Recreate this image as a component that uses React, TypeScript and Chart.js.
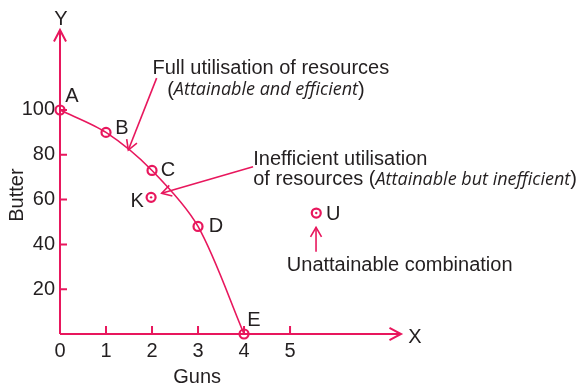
import { useEffect, useRef } from 'react';
import { Chart, registerables } from 'chart.js';

Chart.register(...registerables);

// ---- data ----
const pointNames = ['A', 'B', 'C', 'D', 'E'];
const guns = [0, 1, 2, 3, 4];
const butter = [100, 90, 73, 48, 0];
const inefficientName = 'K';
const inefficientGuns = 1.98;
const inefficientButter = 61;
const unattainableName = 'U';
const unattainableGuns = 5.57;
const unattainableButter = 54;
const xTicks = [0, 1, 2, 3, 4, 5];
const yTicks = [20, 40, 60, 80, 100];
const xAxisTitle = 'Guns';
const yAxisTitle = 'Butter';
const xAxisLetter = 'X';
const yAxisLetter = 'Y';
const xMax = 7.39;
const yMax = 135.7;

// annotation texts, anchored in data units
const noteAnchorsX = [2.01, 2.33, 4.2, 4.2, 4.93];
const noteAnchorsY = [118.7, 108.9, 78.1, 68.75, 30.8];
const noteParts: [string, boolean][][] = [
  [['Full utilisation of resources', false]],
  [['(', false], ['Attainable and efficient', true], [')', false]],
  [['Inefficient utilisation', false]],
  [['of resources (', false], ['Attainable but inefficient', true], [')', false]],
  [['Unattainable combination', false]],
];
const arrowFromX = [2.1, 4.196, 5.565];
const arrowFromY = [114.2, 74.7, 36.7];
const arrowToX = [1.485, 2.21, 5.565];
const arrowToY = [82.1, 62.8, 47.6];

// ---- styles ----
const PINK = '#e8175d';
const INK = '#231f20';
const FONT = '"Liberation Sans", Arial, sans-serif';
const ITALIC_FONT = '"Open Sans", "Noto Sans", sans-serif';
const FS = 20;
const labelOffsets: Record<string, [number, number]> = {
  A: [12, -13], B: [16, -4], C: [16, 0], D: [18, 0], E: [10, -14], K: [-14, 4], U: [17, 1],
};

function drawArrow(ctx: CanvasRenderingContext2D, x1: number, y1: number, x2: number, y2: number, len: number, ang: number, width: number) {
  ctx.save();
  ctx.strokeStyle = PINK;
  ctx.lineWidth = width;
  ctx.lineCap = 'butt';
  ctx.lineJoin = 'miter';
  ctx.beginPath();
  ctx.moveTo(x1, y1);
  ctx.lineTo(x2, y2);
  ctx.stroke();
  const a = Math.atan2(y2 - y1, x2 - x1);
  ctx.beginPath();
  ctx.moveTo(x2 - len * Math.cos(a - ang), y2 - len * Math.sin(a - ang));
  ctx.lineTo(x2, y2);
  ctx.lineTo(x2 - len * Math.cos(a + ang), y2 - len * Math.sin(a + ang));
  ctx.stroke();
  ctx.restore();
}

const decorPlugin = {
  id: 'decor',
  beforeDraw(chart: any) {
    const ctx = chart.ctx as CanvasRenderingContext2D;
    ctx.save();
    ctx.fillStyle = '#ffffff';
    ctx.fillRect(0, 0, chart.width, chart.height);
    ctx.restore();
  },
  beforeDatasetsDraw(chart: any) {
    const ctx = chart.ctx as CanvasRenderingContext2D;
    const xs = chart.scales.x;
    const ys = chart.scales.y;
    const x0 = xs.getPixelForValue(0);
    const y0 = ys.getPixelForValue(0);
    // tick marks (inside)
    ctx.save();
    ctx.strokeStyle = PINK;
    ctx.lineWidth = 2;
    ctx.beginPath();
    xTicks.forEach((v) => {
      if (v === 0) return;
      const px = xs.getPixelForValue(v);
      ctx.moveTo(px, y0);
      ctx.lineTo(px, y0 - 8);
    });
    yTicks.forEach((v) => {
      const py = ys.getPixelForValue(v);
      ctx.moveTo(x0, py);
      ctx.lineTo(x0 + 7, py);
    });
    ctx.stroke();
    ctx.restore();
    // axes with arrows
    drawArrow(ctx, x0, y0, xs.right + 1, y0, 13, Math.PI / 6.5, 2);
    drawArrow(ctx, x0, y0, x0, ys.top, 13, Math.PI / 6.5, 2);
  },
  afterDatasetsDraw(chart: any) {
    const ctx = chart.ctx as CanvasRenderingContext2D;
    const xs = chart.scales.x;
    const ys = chart.scales.y;
    // centre dots for K and U
    [1, 2].forEach((i) => {
      const el = chart.getDatasetMeta(i).data[0];
      ctx.save();
      ctx.fillStyle = PINK;
      ctx.beginPath();
      ctx.arc(el.x, el.y, 1.2, 0, Math.PI * 2);
      ctx.fill();
      ctx.restore();
    });
    // point labels
    ctx.save();
    ctx.fillStyle = INK;
    ctx.font = `${FS}px ${FONT}`;
    ctx.textAlign = 'center';
    ctx.textBaseline = 'middle';
    const meta0 = chart.getDatasetMeta(0);
    pointNames.forEach((n, i) => {
      const el = meta0.data[i];
      const o = labelOffsets[n];
      ctx.fillText(n, el.x + o[0], el.y + o[1]);
    });
    [[1, inefficientName], [2, unattainableName]].forEach(([i, n]) => {
      const el = chart.getDatasetMeta(i as number).data[0];
      const o = labelOffsets[n as string];
      ctx.fillText(n as string, el.x + o[0], el.y + o[1]);
    });
    // axis letters
    const x0 = xs.getPixelForValue(0);
    const y0 = ys.getPixelForValue(0);
    ctx.fillText(xAxisLetter, xs.right + 15, y0 + 3);
    ctx.fillText(yAxisLetter, x0 + 1, ys.top - 11);
    // axis titles
    ctx.fillText(xAxisTitle, xs.getPixelForValue(2.98), y0 + 43);
    ctx.save();
    ctx.translate(17, ys.getPixelForValue(62));
    ctx.rotate(-Math.PI / 2);
    ctx.fillText(yAxisTitle, 0, 0);
    ctx.restore();
    // notes
    ctx.textAlign = 'left';
    noteParts.forEach((parts, i) => {
      let px = xs.getPixelForValue(noteAnchorsX[i]);
      const py = ys.getPixelForValue(noteAnchorsY[i]);
      parts.forEach(([t, it]) => {
        ctx.font = it ? `italic 18px ${ITALIC_FONT}` : `${FS}px ${FONT}`;
        ctx.fillText(t, px, py);
        px += ctx.measureText(t).width;
      });
    });
    ctx.restore();
    // annotation arrows
    arrowFromX.forEach((_, i) => {
      drawArrow(
        ctx,
        xs.getPixelForValue(arrowFromX[i]), ys.getPixelForValue(arrowFromY[i]),
        xs.getPixelForValue(arrowToX[i]), ys.getPixelForValue(arrowToY[i]),
        11, Math.PI / 6, 1.6,
      );
    });
  },
};

const marker = {
  pointRadius: 4.5,
  pointHoverRadius: 4.5,
  pointBorderWidth: 2.2,
  pointBorderColor: PINK,
  pointBackgroundColor: 'rgba(0,0,0,0)',
  borderColor: PINK,
  clip: false as const,
};

export default function App() {
  const ref = useRef<HTMLCanvasElement | null>(null);
  useEffect(() => {
    if (!ref.current) return;
    const chart = new Chart(ref.current, {
      type: 'scatter',
      data: {
        datasets: [
          {
            label: 'PPF',
            data: guns.map((g, i) => ({ x: g, y: butter[i] })),
            showLine: true,
            borderWidth: 1.6,
            tension: 0.3,
            ...marker,
          },
          {
            label: inefficientName,
            data: [{ x: inefficientGuns, y: inefficientButter }],
            showLine: false,
            ...marker,
          },
          {
            label: unattainableName,
            data: [{ x: unattainableGuns, y: unattainableButter }],
            showLine: false,
            ...marker,
          },
        ],
      },
      options: {
        animation: false,
        responsive: false,
        devicePixelRatio: 1,
        layout: { padding: { top: 30, right: 185, left: 0, bottom: 0 } },
        plugins: { legend: { display: false }, tooltip: { enabled: false } },
        events: [],
        scales: {
          x: {
            type: 'linear',
            min: 0,
            max: xMax,
            grid: { display: false, drawTicks: false },
            border: { display: false },
            afterBuildTicks: (s: any) => { s.ticks = xTicks.map((v) => ({ value: v })); },
            afterFit: (s: any) => { s.height = 51; },
            ticks: {
              padding: 5,
              autoSkip: false,
              maxRotation: 0,
              color: INK,
              font: { family: FONT, size: FS },
            },
          },
          y: {
            type: 'linear',
            min: 0,
            max: yMax,
            grid: { display: false, drawTicks: false },
            border: { display: false },
            afterBuildTicks: (s: any) => { s.ticks = yTicks.map((v) => ({ value: v })); },
            afterFit: (s: any) => { s.width = 60; },
            ticks: {
              padding: 5,
              autoSkip: false,
              color: INK,
              font: { family: FONT, size: FS },
            },
          },
        },
      } as any,
      plugins: [decorPlugin],
    });
    return () => chart.destroy();
  }, []);
  return (
    <div style={{ position: 'fixed', left: 0, top: 0, width: 585, height: 385, background: '#fff' }}>
      <canvas ref={ref} width={585} height={385} style={{ width: 585, height: 385, display: 'block' }} />
    </div>
  );
}
